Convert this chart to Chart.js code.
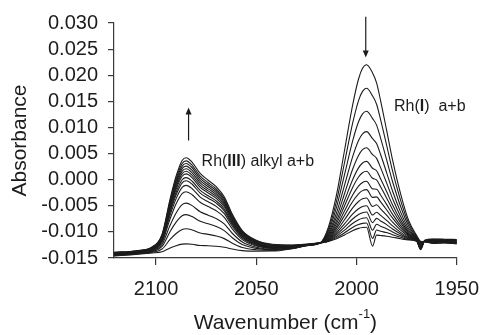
<!DOCTYPE html>
<html>
<head>
<meta charset="utf-8">
<script src="https://cdn.jsdelivr.net/npm/chart.js@4.4.0/dist/chart.umd.min.js"></script>
<style>
  html, body { margin: 0; padding: 0; background: #fff; }
  canvas { display: block; }
</style>
</head>
<body>
<canvas id="irChart" width="491" height="335"></canvas>
<script>
// Wavenumber grid (cm-1), shared by all spectra
const wavenumbers = [2121, 2110, 2102, 2097, 2093, 2090, 2087, 2085, 2082, 2078, 2074, 2070, 2066, 2062, 2057, 2050, 2042, 2032, 2024, 2018,
    2014, 2010, 2006, 2002, 1999, 1997, 1995, 1992, 1990, 1988, 1985, 1982, 1978, 1974, 1970,
    1968, 1966, 1962, 1956, 1950];

// Absorbance spectra, first scan to last scan
const scan01 = [-0.0146, -0.0143, -0.01405, -0.01381, -0.01307, -0.01264, -0.01235, -0.0123, -0.01238, -0.01261, -0.01264, -0.01276, -0.01295, -0.01327, -0.01358, -0.01368, -0.01367, -0.0132, -0.0126, -0.0121,
    -0.00904, -0.00292, 0.00558, 0.01418, 0.01928, 0.02132, 0.022, 0.02044, 0.01853, 0.01514, 0.00948, 0.00372, -0.00273, -0.00782, -0.01071,
    -0.0118, -0.0119, -0.0122, -0.0121, -0.0123];
const scan02 = [-0.01455, -0.01425, -0.01391, -0.01328, -0.01145, -0.01031, -0.00954, -0.0094, -0.00963, -0.01021, -0.01047, -0.01079, -0.01129, -0.01216, -0.01298, -0.01341, -0.01354, -0.01315, -0.01258, -0.0121,
    -0.00945, -0.00414, 0.00324, 0.01072, 0.01514, 0.01691, 0.0175, 0.01602, 0.01445, 0.01151, 0.00663, 0.00163, -0.00395, -0.00836, -0.01087,
    -0.0119, -0.01188, -0.01214, -0.01205, -0.01224];
const scan03 = [-0.0145, -0.0142, -0.01378, -0.01278, -0.00994, -0.00814, -0.00692, -0.0067, -0.00706, -0.00798, -0.00845, -0.00896, -0.00975, -0.01112, -0.01241, -0.01316, -0.01342, -0.0131, -0.01256, -0.0121,
    -0.00984, -0.00532, 0.00095, 0.00733, 0.01109, 0.0126, 0.0131, 0.0117, 0.01045, 0.00796, 0.00383, -0.0004, -0.00514, -0.00889, -0.01102,
    -0.01205, -0.01186, -0.01208, -0.012, -0.01218];
const scan04 = [-0.01445, -0.01415, -0.01367, -0.01236, -0.00871, -0.00637, -0.00478, -0.0045, -0.00497, -0.00615, -0.0068, -0.00746, -0.00848, -0.01026, -0.01194, -0.01294, -0.0133, -0.01305, -0.01254, -0.0121,
    -0.01019, -0.00638, -0.00108, 0.00432, 0.0075, 0.00878, 0.0092, 0.00785, 0.00691, 0.00481, 0.00136, -0.00221, -0.00621, -0.00936, -0.01116,
    -0.0122, -0.01184, -0.01202, -0.01195, -0.01212];
const scan05 = [-0.0144, -0.0141, -0.01356, -0.01195, -0.00748, -0.0046, -0.00265, -0.0023, -0.00288, -0.00433, -0.00515, -0.00596, -0.00722, -0.00941, -0.01148, -0.01272, -0.01319, -0.013, -0.01252, -0.0121,
    -0.01047, -0.00721, -0.00269, 0.00194, 0.00465, 0.00574, 0.0061, 0.00478, 0.00408, 0.0023, -0.00062, -0.00364, -0.00704, -0.00973, -0.01127,
    -0.01232, -0.01182, -0.01196, -0.0119, -0.01206];
const scan06 = [-0.01435, -0.01405, -0.01347, -0.0117, -0.00679, -0.00363, -0.00148, -0.0011, -0.00173, -0.00333, -0.00424, -0.00512, -0.00652, -0.00892, -0.0112, -0.01256, -0.0131, -0.01295, -0.0125, -0.0121,
    -0.0107, -0.00791, -0.00404, -0.00006, 0.00226, 0.00319, 0.0035, 0.00218, 0.00171, 0.00019, -0.00227, -0.00485, -0.00775, -0.01004, -0.01136,
    -0.01245, -0.0118, -0.0119, -0.01185, -0.012];
const scan07 = [-0.0143, -0.014, -0.0134, -0.0115, -0.00628, -0.0029, -0.0006, -0.0002, -0.00088, -0.00257, -0.00355, -0.0045, -0.00598, -0.00855, -0.01098, -0.01244, -0.01301, -0.0129, -0.01248, -0.0121,
    -0.01088, -0.00843, -0.00503, -0.00153, 0.00051, 0.00133, 0.0016, 0.00026, -0.00004, -0.00136, -0.00349, -0.00574, -0.00827, -0.01027, -0.01142,
    -0.01256, -0.01178, -0.01184, -0.0118, -0.01194];
const scan08 = [-0.01425, -0.01395, -0.01333, -0.01136, -0.00592, -0.00241, -0.00002, 0.0004, -0.0003, -0.00206, -0.00308, -0.00407, -0.00561, -0.00828, -0.01081, -0.01233, -0.01293, -0.01285, -0.01246, -0.0121,
    -0.01105, -0.00894, -0.00602, -0.00299, -0.00124, -0.00053, -0.0003, -0.00177, -0.00182, -0.00294, -0.00473, -0.00664, -0.00879, -0.0105, -0.01149,
    -0.01268, -0.01176, -0.01178, -0.01175, -0.01188];
const scan09 = [-0.0142, -0.0139, -0.01326, -0.0112, -0.00551, -0.00184, 0.00066, 0.0011, 0.00037, -0.00147, -0.00254, -0.00357, -0.00519, -0.00798, -0.01063, -0.01221, -0.01285, -0.0128, -0.01244, -0.0121,
    -0.01119, -0.00937, -0.00685, -0.00422, -0.00271, -0.0021, -0.0019, -0.0034, -0.0033, -0.00425, -0.00576, -0.00738, -0.00923, -0.01069, -0.01155,
    -0.0128, -0.01174, -0.01172, -0.0117, -0.01182];
const scan10 = [-0.01415, -0.01385, -0.0132, -0.01107, -0.00522, -0.00143, 0.00115, 0.0016, 0.00084, -0.00104, -0.00215, -0.00321, -0.00488, -0.00775, -0.01048, -0.01211, -0.01277, -0.01275, -0.01242, -0.0121,
    -0.01133, -0.0098, -0.00768, -0.00545, -0.00418, -0.00367, -0.0035, -0.00514, -0.00481, -0.00559, -0.0068, -0.00815, -0.00967, -0.01088, -0.0116,
    -0.01292, -0.01172, -0.01166, -0.01165, -0.01176];
const scan11 = [-0.0141, -0.0138, -0.01313, -0.01095, -0.00492, -0.00102, 0.00163, 0.0021, 0.00132, -0.00061, -0.00176, -0.00285, -0.00456, -0.00753, -0.01034, -0.01201, -0.01269, -0.0127, -0.0124, -0.0121,
    -0.01147, -0.01021, -0.00846, -0.00661, -0.00556, -0.00514, -0.005, -0.00678, -0.00623, -0.00685, -0.00779, -0.00886, -0.01009, -0.01106, -0.01165,
    -0.01303, -0.0117, -0.0116, -0.0116, -0.0117];
const scan12 = [-0.01405, -0.01375, -0.01307, -0.01082, -0.00462, -0.00061, 0.00212, 0.0026, 0.0018, -0.00018, -0.00136, -0.00249, -0.00425, -0.0073, -0.01019, -0.01191, -0.01261, -0.01265, -0.01238, -0.0121,
    -0.01158, -0.01053, -0.00908, -0.00753, -0.00666, -0.00632, -0.0062, -0.00823, -0.00741, -0.0079, -0.00861, -0.00945, -0.01042, -0.0112, -0.0117,
    -0.01314, -0.01168, -0.01154, -0.01155, -0.01164];
const scan13 = [-0.014, -0.0137, -0.013, -0.0107, -0.00432, -0.0002, 0.0026, 0.0031, 0.00228, 0.00025, -0.00097, -0.00212, -0.00394, -0.00707, -0.01004, -0.0118, -0.01253, -0.0126, -0.01236, -0.0121,
    -0.01168, -0.01083, -0.00966, -0.00838, -0.00768, -0.00739, -0.0073, -0.00969, -0.00854, -0.0089, -0.00938, -0.01, -0.01074, -0.01134, -0.01174,
    -0.01325, -0.01166, -0.01148, -0.0115, -0.01158];
const scan14 = [-0.01395, -0.01365, -0.01294, -0.01057, -0.00403, 0.00021, 0.00309, 0.0036, 0.00275, 0.00068, -0.00058, -0.00176, -0.00363, -0.00685, -0.0099, -0.0117, -0.01245, -0.01255, -0.01234, -0.0121,
    -0.01177, -0.0111, -0.01018, -0.00915, -0.0086, -0.00837, -0.0083, -0.01125, -0.00965, -0.00988, -0.01013, -0.01054, -0.01104, -0.01146, -0.01177,
    -0.01336, -0.01164, -0.01142, -0.01145, -0.01152];
const scan15 = [-0.0139, -0.0136, -0.01288, -0.01043, -0.00368, 0.0007, 0.00368, 0.0042, 0.00333, 0.00119, -0.00011, -0.00134, -0.00326, -0.00659, -0.00974, -0.0116, -0.01237, -0.0125, -0.01232, -0.0121,
    -0.01184, -0.01132, -0.01059, -0.00977, -0.00933, -0.00916, -0.0091, -0.01272, -0.01062, -0.01069, -0.01082, -0.01102, -0.01131, -0.01155, -0.0118,
    -0.0134, -0.01162, -0.01136, -0.0114, -0.01146];

const scans = [scan01, scan02, scan03, scan04, scan05, scan06, scan07, scan08, scan09, scan10, scan11, scan12, scan13, scan14, scan15];

// Tick labels
const xTicks = [2100, 2050, 2000, 1950];
const yTicks = [-0.015, -0.010, -0.005, 0.000, 0.005, 0.010, 0.015, 0.020, 0.025, 0.030];

// Annotations (in data coordinates)
const bandLabels = [
    { parts: [['Rh(', false], ['III', true], [') alkyl a+b', false]], wn: 2077.3, abs: 0.0027 },
    { parts: [['Rh(', false], ['I', true], [')  a+b', false]], wn: 1981.3, abs: 0.0131 }
];
const trendArrows = [
    { wn: 2083.8, from: 0.0075, to: 0.0138 },
    { wn: 1995.4, from: 0.0312, to: 0.0234 }
];

const FONT = '"Liberation Sans", Arial, Helvetica, sans-serif';
const INK = '#1c1c1c';
const AXIS = '#3a3a3a';

const annotations = {
    id: 'annotations',
    afterDraw(chart) {
        const ctx = chart.ctx;
        const xs = chart.scales.x, ys = chart.scales.y;
        const area = chart.chartArea;
        ctx.save();
        ctx.fillStyle = INK;
        ctx.strokeStyle = INK;

        // arrows
        trendArrows.forEach(a => {
            const x = xs.getPixelForValue(a.wn);
            const y0 = ys.getPixelForValue(a.from);
            const y1 = ys.getPixelForValue(a.to);
            const dir = y1 < y0 ? 1 : -1;
            ctx.lineWidth = 1.2;
            ctx.beginPath();
            ctx.moveTo(x, y0);
            ctx.lineTo(x, y1 + dir * 5);
            ctx.stroke();
            ctx.beginPath();
            ctx.moveTo(x, y1);
            ctx.lineTo(x - 3, y1 + dir * 7);
            ctx.lineTo(x + 3, y1 + dir * 7);
            ctx.closePath();
            ctx.fill();
        });

        // band labels with bold oxidation states
        ctx.textBaseline = 'alphabetic';
        ctx.textAlign = 'left';
        bandLabels.forEach(l => {
            let x = xs.getPixelForValue(l.wn);
            const y = ys.getPixelForValue(l.abs);
            l.parts.forEach(([txt, bold]) => {
                ctx.font = (bold ? 'bold ' : '') + '16px ' + FONT;
                ctx.fillText(txt, x, y);
                x += ctx.measureText(txt).width;
            });
        });

        // x axis title with superscript
        const main = 'Wavenumber (cm', sup = '-1', tail = ')';
        ctx.font = '21px ' + FONT;
        const w1 = ctx.measureText(main).width;
        const w3 = ctx.measureText(tail).width;
        ctx.font = '13px ' + FONT;
        const w2 = ctx.measureText(sup).width;
        let tx = (area.left + area.right) / 2 - (w1 + w2 + w3) / 2;
        const ty = 329;
        ctx.font = '21px ' + FONT;
        ctx.fillText(main, tx, ty);
        tx += w1;
        ctx.font = '13px ' + FONT;
        ctx.fillText(sup, tx, ty - 11);
        tx += w2;
        ctx.font = '21px ' + FONT;
        ctx.fillText(tail, tx, ty);

        // y axis title
        ctx.translate(26, (area.top + area.bottom) / 2);
        ctx.rotate(-Math.PI / 2);
        ctx.textAlign = 'center';
        ctx.fillText('Absorbance', 0, 0);
        ctx.restore();
    }
};

const datasets = scans.map(s => ({
    data: s.map((v, k) => ({ x: wavenumbers[k], y: v })),
    borderColor: INK,
    borderWidth: 1.1,
    pointRadius: 0,
    fill: false,
    cubicInterpolationMode: 'monotone'
}));

new Chart(document.getElementById('irChart'), {
    type: 'line',
    data: { datasets },
    options: {
        responsive: false,
        animation: false,
        layout: { padding: { left: 0, top: 23, right: 24, bottom: 0 } },
        plugins: { legend: { display: false }, tooltip: { enabled: false } },
        scales: {
            x: {
                type: 'linear',
                reverse: true,
                min: 1950,
                max: 2121,
                afterBuildTicks: s => { s.ticks = xTicks.map(v => ({ value: v })); },
                afterFit: s => { s.height = 77; },
                grid: { drawOnChartArea: false, drawTicks: true, tickLength: 7, color: AXIS, lineWidth: 1.2 },
                border: { color: AXIS, width: 1.2 },
                ticks: {
                    font: { family: FONT, size: 20 },
                    color: INK,
                    padding: 12,
                    maxRotation: 0,
                    autoSkip: false,
                    callback: v => String(v)
                }
            },
            y: {
                min: -0.015,
                max: 0.030,
                afterBuildTicks: s => { s.ticks = yTicks.map(v => ({ value: v })); },
                afterFit: s => { s.width = 114; },
                grid: { drawOnChartArea: false, drawTicks: true, tickLength: 6, color: AXIS, lineWidth: 1.2 },
                border: { color: AXIS, width: 1.2 },
                ticks: {
                    font: { family: FONT, size: 20 },
                    color: INK,
                    padding: 10,
                    autoSkip: false,
                    callback: v => v.toFixed(3)
                }
            }
        }
    },
    plugins: [annotations]
});
</script>
</body>
</html>
